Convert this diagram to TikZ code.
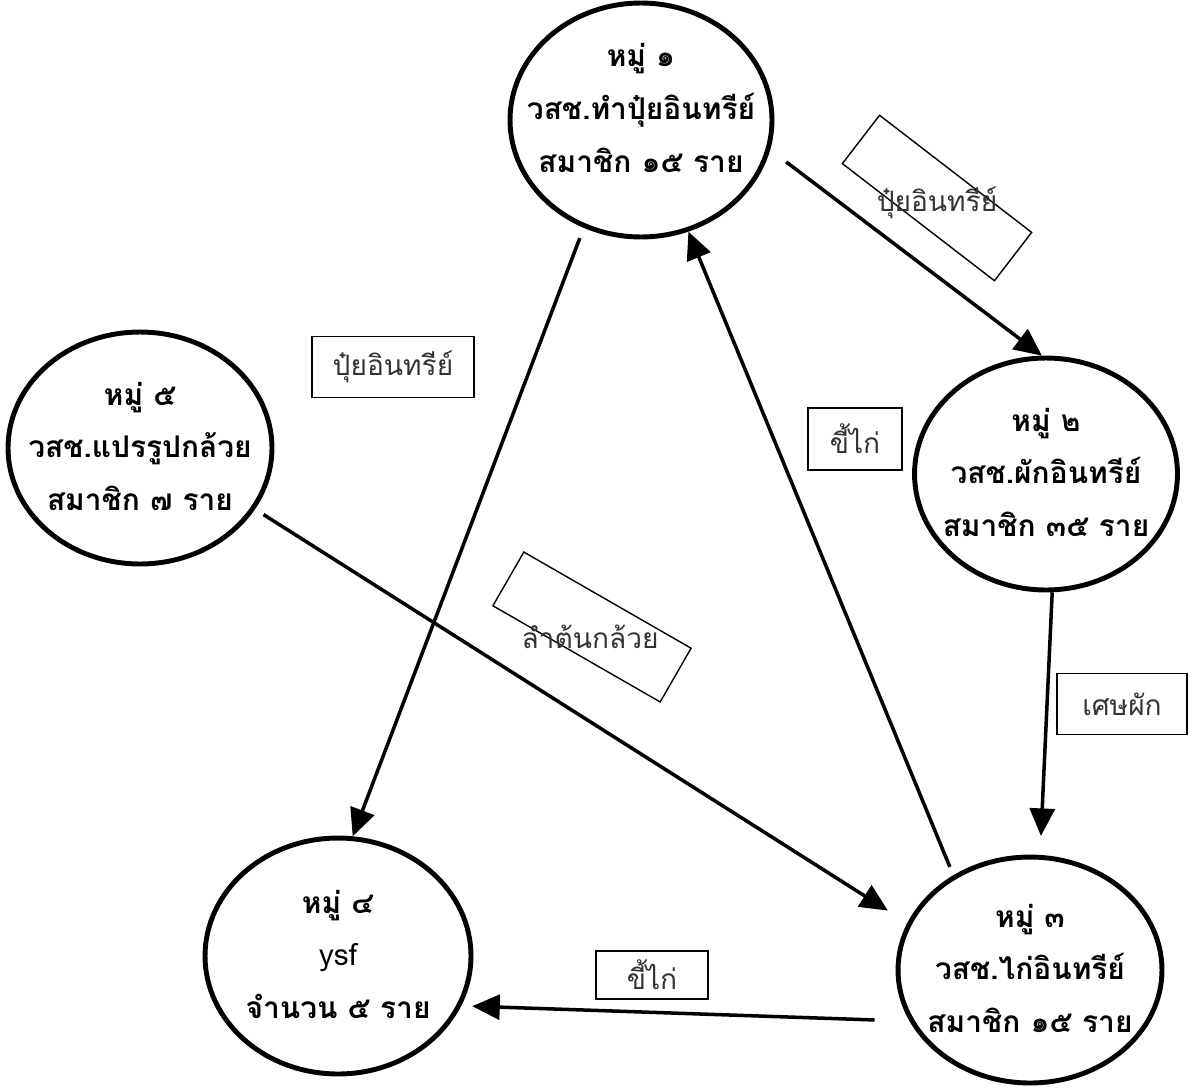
\documentclass[tikz,border=0pt]{standalone}
\usepackage{fontspec}
\newfontfamily\thaifont[Script=Thai]{Loma}
\usetikzlibrary{shapes.geometric,arrows.meta}

% three lines of a group, kept out of the ellipse size
\newcommand{\grouplines}[4][-4pt]{\makebox[0pt]{\raisebox{#1}[0pt][0pt]{\begin{tabular}{@{}c@{}}#2\\#3\\#4\end{tabular}}}}

\tikzset{
    group/.style={ellipse, draw, line width=2.8pt, inner sep=0pt,
        font=\thaifont\bfseries\fontsize{17}{30}\selectfont},
    tag/.style={draw, line width=0.8pt, inner sep=0pt,
        font=\thaifont\fontsize{16}{20}\selectfont, text=black!80},
    tagtext/.style={inner sep=0pt, font=\thaifont\fontsize{16}{20}\selectfont, text=black!80},
    flow/.style={line width=2pt, -{Triangle[length=0.55cm, width=0.5cm]}}
}

\begin{document}
\begin{tikzpicture}[x=0.02cm, y=-0.02cm]
        \useasboundingbox (0, 0) rectangle (1192, 1088);

        % Groups
        \node [group, minimum width=5.24cm, minimum height=4.68cm] (g1) at (641, 120)
            {\grouplines[2pt]{หมู่ ๑}{วสช.ทำปุ๋ยอินทรีย์}{สมาชิก ๑๕ ราย}};
        \node [group, minimum width=5.26cm, minimum height=4.64cm] (g2) at (1046, 474)
            {\grouplines{หมู่ ๒}{วสช.ผักอินทรีย์}{สมาชิก ๓๕ ราย}};
        \node [group, minimum width=5.28cm, minimum height=4.52cm] (g3) at (1030, 970)
            {\grouplines{หมู่ ๓}{วสช.ไก่อินทรีย์}{สมาชิก ๑๕ ราย}};
        \node [group, minimum width=5.32cm, minimum height=4.72cm] (g4) at (338, 956)
            {\grouplines{หมู่ ๔}{\mdseries ysf}{จำนวน ๕ ราย}};
        \node [group, minimum width=5.28cm, minimum height=4.64cm] (g5) at (140, 448)
            {\grouplines{หมู่ ๕}{วสช.แปรรูปกล้วย}{สมาชิก ๗ ราย}};

        % Flows between groups
        \draw [flow, shorten <=0.22cm] (g1.242) -- (g4.83);
        \draw [flow, shorten <=0.18cm] (g3.129) -- (g1.293);
        \draw [flow, shorten <=0.4cm] (g1.-13) -- (g2.92);
        \draw [flow, shorten >=0.38cm] (g2.273) -- (g3.85);
        \draw [flow, shorten <=0.2cm, shorten >=0.46cm] (g5.332) -- (g3.159);
        \draw [flow, shorten <=0.7cm, shorten >=0.22cm] (g3.203) -- (g4.338);

        % Tags
        \node [tag, rotate=-37.6, minimum width=3.84cm, minimum height=1.22cm] (t1) at (937, 198) {};
        \node [tagtext] (t1text) at (937, 203) {ปุ๋ยอินทรีย์};
        \node [tag, rotate=-29.9, minimum width=3.86cm, minimum height=1.24cm] (t2) at (592, 627) {};
        \node [tagtext] (t2text) at (590, 637) {ลำต้นกล้วย};
        \node [tag, minimum width=3.24cm, minimum height=1.22cm] (t3) at (393, 367) {ปุ๋ยอินทรีย์};
        \node [tag, minimum width=1.88cm, minimum height=1.24cm] (t4) at (855, 439) {ขี้ไก่};
        \node [tag, minimum width=2.6cm, minimum height=1.22cm] (t5) at (1122, 704) {เศษผัก};
        \node [tag, minimum width=2.24cm, minimum height=0.96cm] (t6) at (652, 975) {ขี้ไก่};
    \end{tikzpicture}
\end{document}
